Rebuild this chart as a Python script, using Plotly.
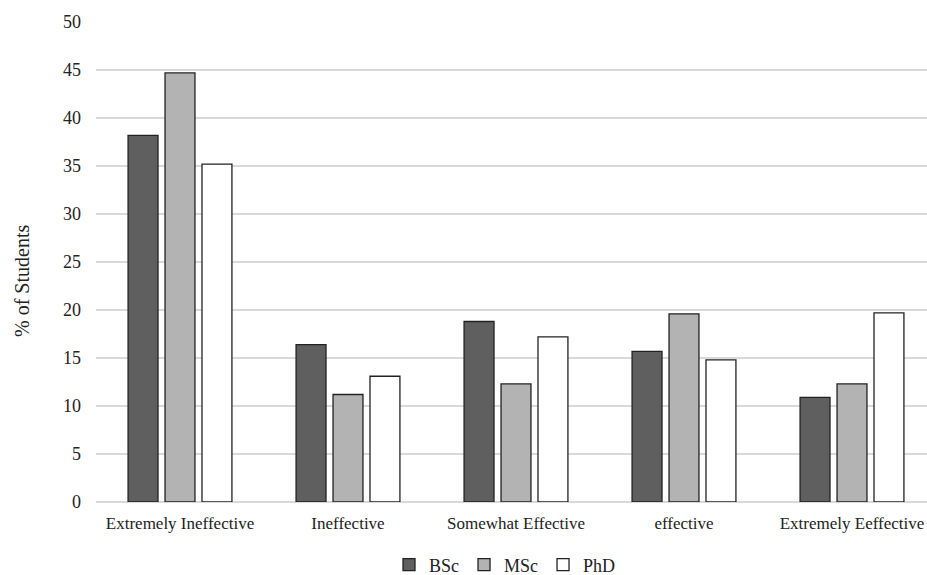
import plotly.graph_objects as go

categories = ["Extremely Ineffective", "Ineffective", "Somewhat Effective", "effective", "Extremely Eeffective"]
bsc = [38.2, 16.4, 18.8, 15.7, 10.9]
msc = [44.7, 11.2, 12.3, 19.6, 12.3]
phd = [35.2, 13.1, 17.2, 14.8, 19.7]
y_ticks = [0, 5, 10, 15, 20, 25, 30, 35, 40, 45, 50]

FONT = "Liberation Serif, Times New Roman, serif"
OUTLINE = "#222222"

fig = go.Figure()
for name, vals, color in [("BSc", bsc, "#5f5f5f"), ("MSc", msc, "#b3b3b3"), ("PhD", phd, "#ffffff")]:
    fig.add_trace(go.Bar(
        name=name, x=categories, y=vals,
        marker=dict(color=color, line=dict(color=OUTLINE, width=1.3)),
    ))

fig.update_layout(
    width=927, height=575,
    margin=dict(l=96, r=0, t=22, b=73, autoexpand=False),
    paper_bgcolor="white", plot_bgcolor="white",
    barmode="group", bargap=0.34, bargroupgap=0.19,
    font=dict(family=FONT, size=18, color="#222222"),
    showlegend=True,
    legend=dict(orientation="h", xref="container", x=505 / 927, xanchor="center",
                yref="container", y=10 / 575, yanchor="middle",
                font=dict(size=18), itemwidth=30, tracegroupgap=0,
                traceorder="normal"),
    xaxis=dict(range=[-0.5, 4.4464], showgrid=False, showline=False, ticks="",
               ticklabelstandoff=9, tickfont=dict(size=17), zeroline=False),
    yaxis=dict(range=[0, 50], tickvals=y_ticks, showgrid=True, gridcolor="#d9d9d9",
               gridwidth=1.5, zeroline=True, zerolinecolor="#d9d9d9", zerolinewidth=1.5,
               showline=False, ticks="", ticklabelstandoff=14, tickfont=dict(size=18)),
    annotations=[dict(text="% of Students", textangle=-90, xref="paper", yref="paper",
                      x=(22 - 96) / 831, y=(502 - 281) / 480, showarrow=False,
                      xanchor="center", yanchor="middle", font=dict(size=20))],
)

fig.write_html("out.html")
